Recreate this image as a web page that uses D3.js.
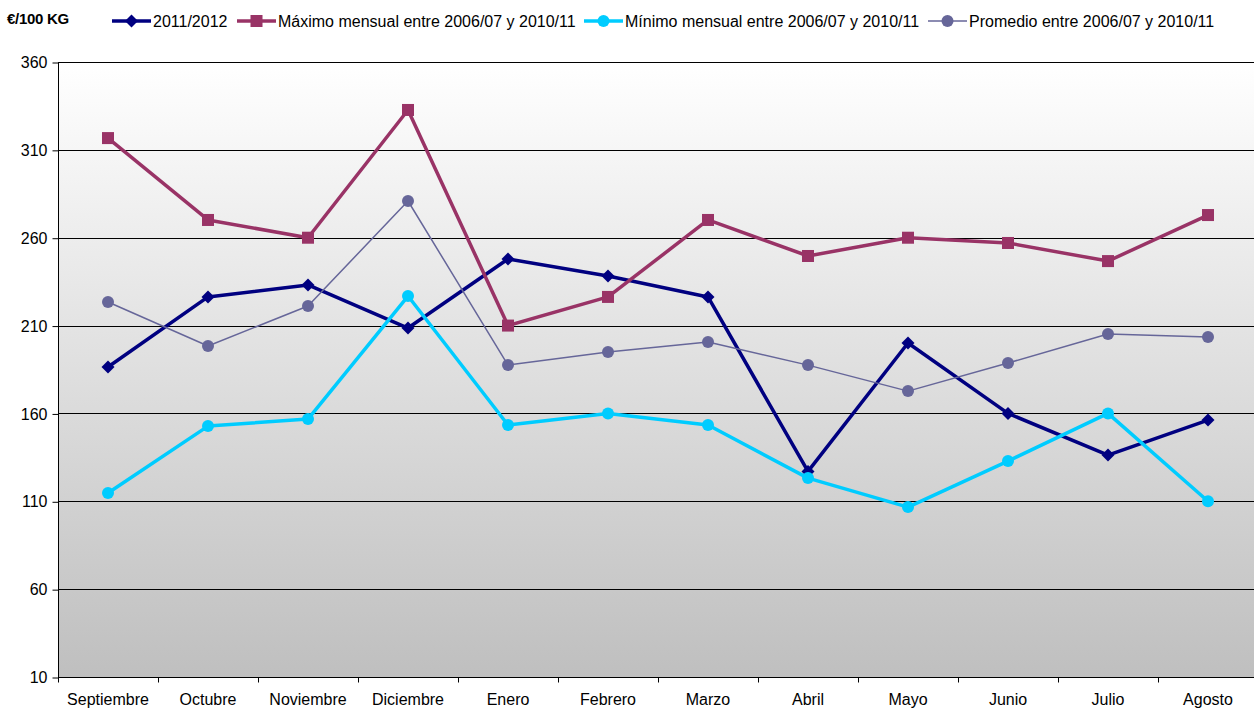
<!DOCTYPE html>
<html>
<head>
<meta charset="utf-8">
<script src="https://cdn.jsdelivr.net/npm/d3@7"></script>
<style>
  body { margin: 0; background: #fff; }
  svg text { font-family: "Liberation Sans", Arial, sans-serif; }
</style>
</head>
<body>
<svg id="chart" width="1254" height="709"></svg>
<script>
// data
const months = ['Septiembre', 'Octubre', 'Noviembre', 'Diciembre', 'Enero', 'Febrero',
    'Marzo', 'Abril', 'Mayo', 'Junio', 'Julio', 'Agosto'];
const season2011 = [186.4, 226.3, 233.1, 208.6, 247.9, 238.2, 226.3, 127, 200.1, 160, 136.3, 156.2];
const maxMonthly = [316.7, 270.1, 260, 332.7, 210, 226.3, 270.1, 249.6, 260, 257, 246.7, 272.9];
const minMonthly = [114.7, 152.8, 156.8, 226.8, 153.4, 160, 153.4, 123.2, 106.7, 132.9, 160, 110];
const avgMonthly = [223.4, 198.4, 221.1, 280.9, 187.5, 195, 200.6, 187.5, 172.7, 188.7, 205.2, 203.5];
const yTicks = [10, 60, 110, 160, 210, 260, 310, 360];

const series = [
    { name: '2011/2012', values: season2011, color: '#000080', width: 3.5, symbol: 'diamond' },
    { name: 'Máximo mensual entre 2006/07 y 2010/11', values: maxMonthly, color: '#993366', width: 3.5, symbol: 'square' },
    { name: 'Mínimo mensual entre 2006/07 y 2010/11', values: minMonthly, color: '#00ccff', width: 3.5, symbol: 'circle' },
    { name: 'Promedio entre 2006/07 y 2010/11', values: avgMonthly, color: '#666699', width: 1.5, symbol: 'circle' }
];

// the last band runs a few px past the window edge, as in the original
const size = { left: 58, right: 1254, bandEnd: 1258, top: 62, bottom: 677 };
const svg = d3.select('#chart');

const x = d3.scaleBand().domain(months).range([size.left, size.bandEnd]);
const y = d3.scaleLinear().domain([10, 360]).range([size.bottom, size.top]);

// plot background gradient
const grad = svg.append('defs').append('linearGradient')
    .attr('id', 'bg').attr('x1', 0).attr('y1', 0).attr('x2', 0).attr('y2', 1);
grad.append('stop').attr('offset', '0%').attr('stop-color', '#ffffff');
grad.append('stop').attr('offset', '100%').attr('stop-color', '#bfbfbf');

svg.append('rect')
    .attr('x', size.left).attr('y', size.top)
    .attr('width', size.right - size.left).attr('height', size.bottom - size.top)
    .attr('fill', 'url(#bg)');

// gridlines
svg.append('g')
    .selectAll('line')
    .data(yTicks.filter(d => d > 10))
    .enter()
    .append('line')
    .attr('x1', size.left).attr('x2', size.right)
    .attr('y1', d => Math.round(y(d)) + 0.5).attr('y2', d => Math.round(y(d)) + 0.5)
    .attr('stroke', '#000').attr('stroke-width', 1);

// y axis
const yAxis = svg.append('g')
    .attr('transform', `translate(${size.left + 0.5}, 0.5)`)
    .call(d3.axisLeft(y).tickValues(yTicks).tickSize(6).tickPadding(5));
yAxis.select('.domain').attr('stroke', '#000').attr('d', `M-0,${size.top}V${size.bottom}`);
yAxis.selectAll('text').attr('font-size', 16).attr('fill', '#000');

// x axis with ticks on band boundaries
const xAxis = svg.append('g')
    .attr('transform', `translate(0, ${size.bottom + 0.5})`)
    .call(d3.axisBottom(x).tickSize(0).tickPadding(16));
xAxis.select('.domain').attr('stroke', '#000').attr('d', `M${size.left},0H${size.right}`);
xAxis.selectAll('text').attr('font-size', 16).attr('fill', '#000');
xAxis.selectAll('.bound')
    .data(months)
    .enter()
    .append('line')
    .attr('x1', d => Math.round(x(d)) + 0.5).attr('x2', d => Math.round(x(d)) + 0.5)
    .attr('y1', 0).attr('y2', 5)
    .attr('stroke', '#000');

const cx = d => x(d) + x.bandwidth() / 2;

function drawSymbol(g, symbol, color, px, py) {
    if (symbol === 'square') {
        g.append('rect').attr('x', px - 6).attr('y', py - 6).attr('width', 12).attr('height', 12).attr('fill', color);
    } else if (symbol === 'diamond') {
        g.append('path').attr('d', `M${px},${py - 6.5}L${px + 6.5},${py}L${px},${py + 6.5}L${px - 6.5},${py}Z`).attr('fill', color);
    } else {
        g.append('circle').attr('cx', px).attr('cy', py).attr('r', 6).attr('fill', color);
    }
}

const line = d3.line().x(d => cx(d.m)).y(d => y(d.v));

series.forEach(s => {
    const pts = months.map((m, i) => ({ m: m, v: s.values[i] }));
    const g = svg.append('g');
    g.append('path')
        .datum(pts)
        .attr('d', line)
        .attr('fill', 'none')
        .attr('stroke', s.color)
        .attr('stroke-width', s.width)
        .attr('stroke-linejoin', 'round');
    pts.forEach(p => drawSymbol(g, s.symbol, s.color, cx(p.m), y(p.v)));
});

// unit label
svg.append('text')
    .attr('x', 7).attr('y', 24)
    .attr('font-size', 15).attr('font-weight', 'bold')
    .attr('letter-spacing', -0.3)
    .text('€/100 KG');

// legend
const legendX = [112, 237, 584, 928];
series.forEach((s, i) => {
    const g = svg.append('g').attr('transform', `translate(${legendX[i]}, 21)`);
    g.append('line').attr('x1', 0).attr('x2', 39).attr('y1', 0).attr('y2', 0)
        .attr('stroke', s.color).attr('stroke-width', s.width);
    drawSymbol(g, s.symbol, s.color, 19.5, 0);
    g.append('text').attr('x', 41).attr('y', 6).attr('font-size', 16).text(s.name);
});
</script>
</body>
</html>
